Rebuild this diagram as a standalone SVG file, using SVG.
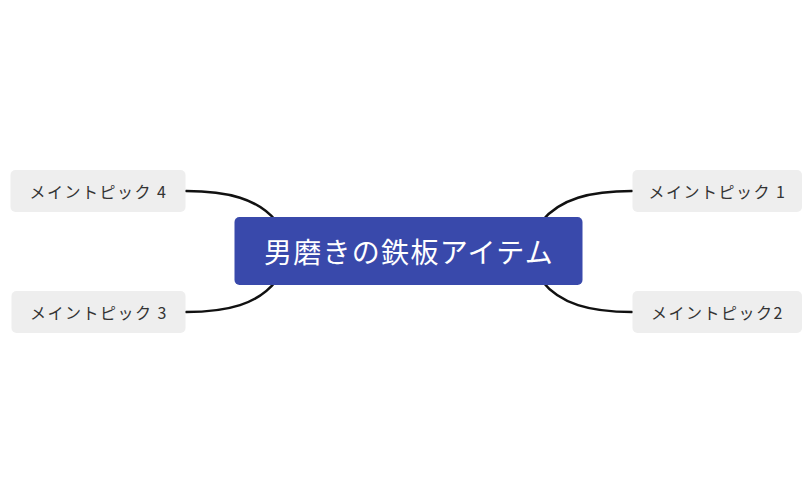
<svg xmlns="http://www.w3.org/2000/svg" width="812" height="503" viewBox="0 0 812 503">
<style>
.topic rect{fill:#eeeeee}
.topic text{font-family:"Noto Sans CJK JP","Noto Sans",sans-serif;font-size:16px;letter-spacing:1.5px;fill:#333;text-anchor:middle;dominant-baseline:central}
.conn path{fill:none;stroke:#111;stroke-width:2.5;stroke-linecap:round}
</style>
<rect width="812" height="503" fill="#fff"/>
<g id="connectors" class="conn">
<path d="M186,191 C228,191 258,199 276,221"/>
<path d="M186,312 C228,312 258,304 276,281"/>
<path d="M632,191 C590,191 560,199 542,221"/>
<path d="M632,312 C590,312 560,304 542,281"/>
</g>
<g id="central">
<rect x="234.5" y="217" width="348" height="68" rx="5" fill="#3949ab"/>
<text x="409" y="251" font-family="Noto Sans CJK JP,sans-serif" font-size="28" letter-spacing="1.3" fill="#fff" text-anchor="middle" dominant-baseline="central">男磨きの鉄板アイテム</text>
</g>
<g id="topic4" class="topic">
<rect x="10.5" y="170" width="175" height="42" rx="5"/>
<text x="98.5" y="191">メイントピック 4</text>
</g>
<g id="topic3" class="topic">
<rect x="11.5" y="291" width="174" height="42" rx="5"/>
<text x="99" y="312">メイントピック 3</text>
</g>
<g id="topic1" class="topic">
<rect x="632.5" y="170" width="169.5" height="42" rx="5"/>
<text x="717.5" y="191">メイントピック 1</text>
</g>
<g id="topic2" class="topic">
<rect x="632.5" y="291" width="169.5" height="42" rx="5"/>
<text x="717.5" y="312">メイントピック2</text>
</g>
</svg>
